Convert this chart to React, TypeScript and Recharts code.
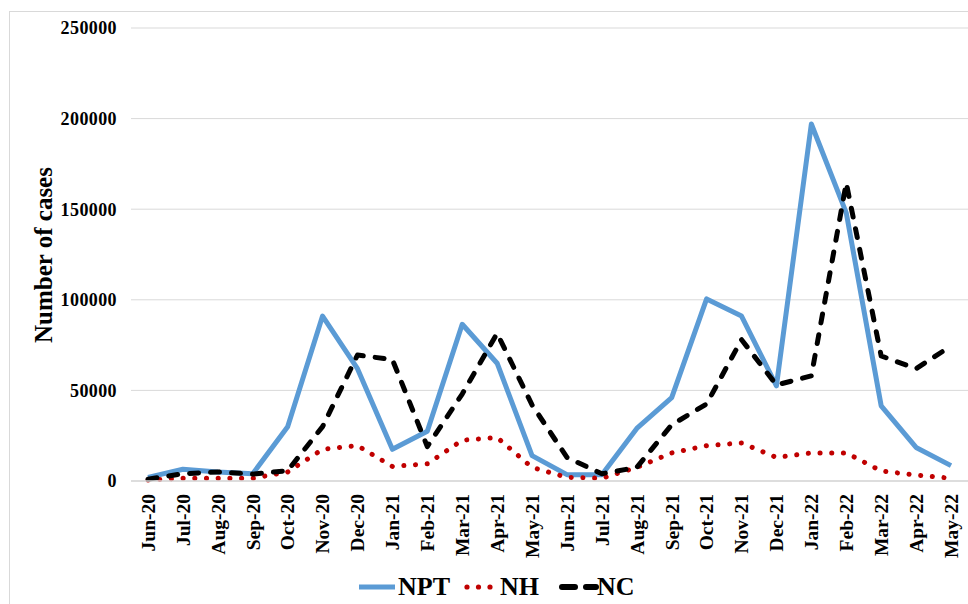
import { LineChart, Line, XAxis, YAxis, CartesianGrid, Legend } from 'recharts';

const months = [
  'Jun-20', 'Jul-20', 'Aug-20', 'Sep-20', 'Oct-20', 'Nov-20', 'Dec-20', 'Jan-21',
  'Feb-21', 'Mar-21', 'Apr-21', 'May-21', 'Jun-21', 'Jul-21', 'Aug-21', 'Sep-21',
  'Oct-21', 'Nov-21', 'Dec-21', 'Jan-22', 'Feb-22', 'Mar-22', 'Apr-22', 'May-22',
];

const npt = [
  2000, 6500, 5000, 4000, 30000, 91000, 62000, 17500, 27500, 86500, 65000, 14000,
  3500, 3500, 29000, 46000, 100500, 91000, 52500, 197000, 148000, 41500, 18500, 8500,
];

const nh = [
  500, 1500, 1500, 1500, 5000, 17500, 19500, 8000, 9500, 22500, 24000, 7500,
  2000, 1500, 7500, 15500, 19500, 21000, 13000, 15500, 15500, 5500, 3300, 1500,
];

const nc = [
  1000, 4000, 5000, 3800, 5700, 30000, 69500, 67000, 19000, 48000, 81500, 42000,
  13000, 4000, 7500, 31000, 42500, 78000, 53000, 58000, 164500, 69000, 62000, 74500,
];

const yTicks = [0, 50000, 100000, 150000, 200000, 250000];

const data = months.map((m, i) => ({ month: m, NPT: npt[i], NH: nh[i], NC: nc[i] }));

const FONT = '"Liberation Serif", "Times New Roman", serif';

function MonthTick({ x, y, payload }: any) {
  return (
    <text
      transform={`translate(${x},${y + 13}) rotate(-90)`}
      textAnchor="end"
      dy="0.35em"
      fontFamily={FONT}
      fontWeight="bold"
      fontSize={19.5}
      fill="#000"
    >
      {payload.value}
    </text>
  );
}

function LegendBox() {
  const textStyle = { fontFamily: FONT, fontWeight: 'bold' as const, fontSize: 26, color: '#000', lineHeight: '30px' };
  return (
    <div style={{ position: 'relative', height: 30 }}>
      <svg style={{ position: 'absolute', left: 357, top: 10 }} width={40} height={10}>
        <line x1={2} y1={5} x2={38} y2={5} stroke="#5B9BD5" strokeWidth={5} />
      </svg>
      <span style={{ ...textStyle, position: 'absolute', left: 398, top: 0 }}>NPT</span>
      <svg style={{ position: 'absolute', left: 462, top: 10 }} width={36} height={10}>
        {[0, 1, 2].map((k) => (
          <circle key={k} cx={5 + k * 11.5} cy={5} r={2.6} fill="#C00000" />
        ))}
      </svg>
      <span style={{ ...textStyle, position: 'absolute', left: 500, top: 0 }}>NH</span>
      <svg style={{ position: 'absolute', left: 558, top: 10 }} width={42} height={10}>
        <line x1={4} y1={5} x2={17} y2={5} stroke="#000" strokeWidth={6} strokeLinecap="round" />
        <line x1={28} y1={5} x2={38} y2={5} stroke="#000" strokeWidth={6} strokeLinecap="round" />
      </svg>
      <span style={{ ...textStyle, position: 'absolute', left: 597, top: 0 }}>NC</span>
    </div>
  );
}

function YLabel() {
  return (
    <text
      transform="translate(43,255) rotate(-90)"
      textAnchor="middle"
      dy="0.35em"
      fontFamily={FONT}
      fontWeight="bold"
      fontSize={25}
      fill="#000"
    >
      Number of cases
    </text>
  );
}

export default function App() {
  return (
    <div style={{ position: 'absolute', left: 0, top: 0, width: 968, height: 604, overflow: 'hidden', background: '#fff' }}>
      <div
        style={{
          position: 'absolute',
          left: 9,
          top: 11,
          width: 980,
          height: 620,
          border: '1px solid #d9d9d9',
        }}
      />
      <LineChart
        width={968}
        height={604}
        data={data}
        margin={{ top: 28, right: 0, bottom: 43, left: 0 }}
      >
        <CartesianGrid vertical={false} stroke="#d9d9d9" strokeWidth={1} />
        <XAxis
          dataKey="month"
          height={80}
          interval={0}
          padding={{ left: 17, right: 17 }}
          axisLine={{ stroke: '#d9d9d9', strokeWidth: 1.5 }}
          tickLine={false}
          tickSize={0}
          tickMargin={0}
          tick={<MonthTick />}
        />
        <YAxis
          width={131}
          domain={[0, 250000]}
          ticks={yTicks}
          interval={0}
          axisLine={false}
          tickLine={false}
          tickSize={6}
          tickMargin={8}
          tick={{ fontFamily: FONT, fontWeight: 'bold', fontSize: 18, fill: '#000', letterSpacing: 0.4 }}
          label={{ content: () => <YLabel /> }}
        />
        <Line
          dataKey="NPT"
          stroke="#5B9BD5"
          strokeWidth={5}
          strokeLinejoin="round"
          dot={false}
          activeDot={false}
          isAnimationActive={false}
        />
        <Line
          dataKey="NH"
          stroke="#C00000"
          strokeWidth={5}
          strokeDasharray="0.1 11.6"
          strokeLinecap="round"
          dot={false}
          activeDot={false}
          isAnimationActive={false}
        />
        <Line
          dataKey="NC"
          stroke="#000000"
          strokeWidth={5}
          strokeDasharray="9 12"
          strokeLinecap="round"
          strokeLinejoin="round"
          dot={false}
          activeDot={false}
          isAnimationActive={false}
        />
        <Legend
          layout="horizontal"
          verticalAlign="middle"
          align="center"
          content={() => <LegendBox />}
          wrapperStyle={{ top: 572, left: 0, width: 968, height: 30 }}
        />
      </LineChart>
    </div>
  );
}
